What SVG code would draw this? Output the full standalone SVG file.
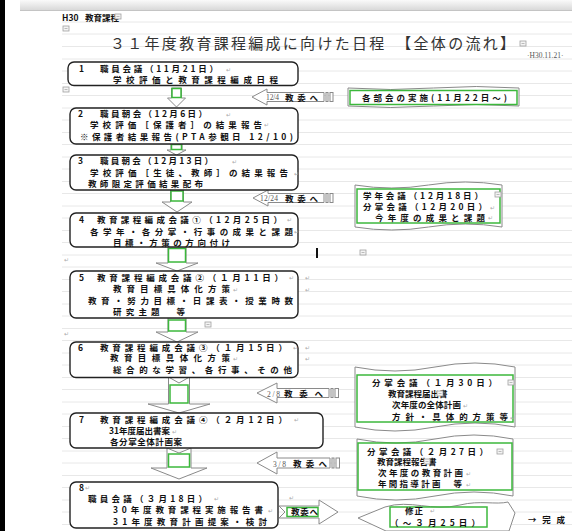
<svg xmlns="http://www.w3.org/2000/svg" xmlns:xlink="http://www.w3.org/1999/xlink" width="572" height="531" viewBox="0 0 572 531">
<defs>
<style>
.t{font-family:"Noto Sans CJK JP","Noto Sans CJK SC",sans-serif;font-size:8.5px;font-weight:bold;fill:#111}
.s{font-family:"Liberation Serif",serif;font-size:7.5px;fill:#555}
.rm{font-family:"DejaVu Sans",sans-serif;font-size:6px;fill:#aaa}
.box{fill:#fff;stroke:#222;stroke-width:1.4}
.g{fill:none;stroke:#3cb83c;stroke-width:1.5}
.ga{fill:#fff;stroke:#8a8a8a;stroke-width:1}
.rule{stroke:#e2e2e2;stroke-width:0.8;fill:none}
</style>
<linearGradient id="top" x1="0" y1="0" x2="0" y2="1">
<stop offset="0" stop-color="#fafafa"/><stop offset="1" stop-color="#d9d9d9"/>
</linearGradient>
<g id="cm"><rect x="0" y="0" width="6" height="5" fill="#f4f4f4" stroke="#a0a0a0" stroke-width="0.8"/><path d="M1.5 2.5H4.5" stroke="#a0a0a0" stroke-width="0.7"/></g>
</defs>
<rect width="572" height="531" fill="#fff"/>
<rect x="0" y="0" width="5" height="531" fill="#000"/>
<rect x="20" y="0" width="552" height="10" fill="url(#top)"/>
<path d="M20 10.5H572" stroke="#c4c4c4" stroke-width="1"/>

<g id="rules">
<path class="rule" d="M62 22H572M62 34H572M62 46.5H572M62 59H572M62 71H572M62 83.5H572M62 95.5H572M62 108H572M62 120H572M62 132.5H572M62 144.5H572M62 157H572M62 169H572M62 181.5H572M62 193.5H572M62 206H572M62 218H572M62 230.5H572M62 242.5H572M62 255H572M62 267H572M62 279.5H572M62 291.5H572M62 304H572M62 316H572M62 328.5H572M62 340.5H572M62 353H572M62 365H572M62 377.5H572M62 389.5H572M62 402H572M62 414H572M62 426.5H572M62 438.5H572M62 451H572M62 463H572M62 475.5H572M62 487.5H572M62 500H572M62 512H572M62 524.5H572"/>
</g>

<g id="header">
<text class="t" x="62" y="21" font-size="8">H30</text>
<text class="t" x="85" y="21" font-size="7">教育課程</text>
<use href="#cm" x="115" y="14"/>
<use href="#cm" x="63" y="26"/>
<text x="110" y="49" font-family="'Noto Sans CJK JP',sans-serif" font-size="15" fill="#333" textLength="405" lengthAdjust="spacing">３１年度教育課程編成に向けた日程　【全体の流れ】</text>
<use href="#cm" x="520" y="41"/>
<text class="s" x="527" y="58" font-size="7">·H30.11.21·</text>
</g>

<g id="connectors">
<path class="ga" d="M171.5 88H181.5V98H185.5L176.5 107L167.5 98H171.5Z"/>
<rect class="g" x="172" y="88.5" width="9" height="9"/>
<path class="ga" d="M171 144H182V150H186L176.5 155L167 150H171Z"/>
<rect class="g" x="171.5" y="144.5" width="10" height="5"/>
<path class="ga" d="M170.5 190H183.5V202H192L177 212L162 202H170.5Z"/>
<rect class="g" x="171" y="191" width="12" height="10"/>
<path class="ga" d="M168 247H186V263H198L177 271L156 263H168Z"/>
<rect class="g" x="168.5" y="248.5" width="17" height="13.5"/>
<path class="ga" d="M168 318H186V332H198L177 342L156 332H168Z"/>
<rect class="g" x="168.5" y="320" width="17" height="11"/>
<path class="ga" d="M168.5 377L179 383L189.5 377V404H210L179 413L148 404H168.5Z"/>
<rect class="g" x="170" y="385" width="18" height="18"/>
<path class="ga" d="M167 448L179 453L191 448V468H207L179 479L151 468H167Z"/>
<rect class="g" x="168.5" y="454" width="21" height="13"/>
<path class="ga" d="M252 97L267 89V92.5H324V101.5H267V105Z"/>
<rect class="ga" x="326" y="92.5" width="2" height="9"/><rect class="ga" x="330" y="92.5" width="3" height="9"/>
<path class="ga" d="M253 198L268 190V193.5H324V202.5H268V206Z"/>
<rect class="ga" x="326" y="193.5" width="2" height="9"/><rect class="ga" x="330" y="193.5" width="3" height="9"/>
<path class="ga" d="M257 393L277 383V388.5H329V397.5H277V403Z"/>
<rect class="ga" x="331" y="388.5" width="2" height="9"/><rect class="ga" x="335" y="388.5" width="3.5" height="9"/>
<path class="ga" d="M257 463L277 452V458H330V468H277V474Z"/>
<rect class="ga" x="332" y="458" width="2" height="10"/><rect class="ga" x="336" y="458" width="3.5" height="10"/>
<path class="ga" d="M279 506H319V500L338 512L319 524V518H279L285 512Z"/>
<rect class="g" x="287" y="507.5" width="31" height="9"/>
</g>

<g id="arrow-labels">
<text class="s" x="266" y="100" textLength="13">12/4</text>
<text class="t" x="285" y="100.5" textLength="33" lengthAdjust="spacing">教委へ</text>
<text class="s" x="260" y="201" textLength="18">12/24</text>
<text class="t" x="285" y="201.5" textLength="33" lengthAdjust="spacing">教委へ</text>
<text class="s" x="267" y="396.5" textLength="13">2/8</text>
<text class="t" x="284" y="397" textLength="39" lengthAdjust="spacing">教委へ</text>
<text class="s" x="273" y="466.5" textLength="13">3/8</text>
<text class="t" x="293" y="467" textLength="34" lengthAdjust="spacing">教委へ</text>
<text class="t" x="291" y="515" textLength="27" lengthAdjust="spacing">教委へ</text>
</g>

<g id="node1">
<rect class="box" x="68" y="62" width="230" height="23.5" rx="6"/>
<text class="t" x="79" y="71.5">1</text>
<text class="t" x="100" y="71.5" textLength="118" lengthAdjust="spacing">職員会議（11月21日）</text>
<text class="t" x="113" y="83" textLength="165" lengthAdjust="spacing">学校評価と教育課程編成日程</text>
</g>

<g id="node2">
<rect class="box" x="70" y="108" width="228" height="36" rx="6"/>
<text class="t" x="78" y="117">2</text>
<text class="t" x="100" y="117" textLength="107" lengthAdjust="spacing">職員朝会（12月6日）</text>
<text class="t" x="90" y="127.5" textLength="172" lengthAdjust="spacing">学校評価［保護者］の結果報告</text>
<text class="t" x="80" y="140" textLength="213" lengthAdjust="spacing">※保護者結果報告(PTA参観日 12/10)</text>
</g>

<g id="node3">
<rect class="box" x="70" y="155" width="228" height="35" rx="6"/>
<text class="t" x="78" y="164">3</text>
<text class="t" x="100" y="164" textLength="113" lengthAdjust="spacing">職員朝会（12月13日）</text>
<text class="t" x="90" y="175.5" textLength="198" lengthAdjust="spacing">学校評価［生徒、教師］の結果報告</text>
<text class="t" x="88" y="187" textLength="115" lengthAdjust="spacing">教師限定評価結果配布</text>
</g>

<g id="node-bukai">
<path class="ga" d="M348 88Q390.75 91 433.5 88T519 88V106Q476.25 103 433.5 106T348 106Z"/>
<rect class="g" x="350" y="90.5" width="167" height="14"/>
<text class="t" x="362" y="100.5" textLength="145" lengthAdjust="spacing">各部会の実施(11月22日～)</text>
</g>

<g id="node-gakunen">
<path class="ga" d="M355 185Q391.75 191 428.5 185T502 185V227Q465.25 221 428.5 227T355 227Z"/>
<rect class="g" x="357" y="189" width="143" height="34"/>
<text class="t" x="363" y="198.5" textLength="120" lengthAdjust="spacing">学年会議（12月18日）</text>
<use href="#cm" x="495" y="192"/>
<text class="t" x="363" y="210" textLength="124" lengthAdjust="spacing">分掌会議（12月20日）</text>
<text class="t" x="375" y="220.5" textLength="110" lengthAdjust="spacing">今年度の成果と課題</text>
</g>

<g id="node4">
<rect class="box" x="70" y="213" width="228" height="34" rx="6"/>
<text class="t" x="79" y="223">4</text>
<text class="t" x="97" y="223" textLength="185" lengthAdjust="spacing">教育課程編成会議①（12月25日）</text>
<text class="t" x="90" y="234.5" textLength="203" lengthAdjust="spacing">各学年・各分掌・行事の成果と課題</text>
<text class="t" x="113" y="245.5" textLength="117" lengthAdjust="spacing">目標・方策の方向付け</text>
</g>

<g id="node5">
<rect class="box" x="70" y="271" width="228" height="47" rx="6"/>
<text class="t" x="79" y="280.5">5</text>
<text class="t" x="97" y="280.5" textLength="186" lengthAdjust="spacing">教育課程編成会議②（１月11日）</text>
<text class="t" x="113" y="292" textLength="117" lengthAdjust="spacing">教育目標具体化方策</text>
<text class="t" x="88" y="303.5" textLength="205" lengthAdjust="spacing">教育・努力目標・日課表・授業時数</text>
<text class="t" x="113" y="314.5" textLength="72" lengthAdjust="spacing">研究主題　等</text>
</g>

<g id="node6">
<rect class="box" x="70" y="342" width="228" height="35.5" rx="6"/>
<text class="t" x="78" y="350.5">6</text>
<text class="t" x="100" y="350.5" textLength="187" lengthAdjust="spacing">教育課程編成会議③（１月15日）</text>
<text class="t" x="110" y="361" textLength="120" lengthAdjust="spacing">教育目標具体化方策</text>
<text class="t" x="113" y="372.5" textLength="179" lengthAdjust="spacing">総合的な学習、各行事、その他</text>
</g>

<g id="node-bunsho1">
<path class="ga" d="M355 367Q395 375 435 367T515 367V427Q475 419 435 427T355 427Z"/>
<rect class="g" x="357" y="375" width="156" height="47"/>
<text class="t" x="372" y="386" textLength="125" lengthAdjust="spacing">分掌会議（１月30日）</text>
<use href="#cm" x="508" y="380"/>
<text class="t" x="388" y="396.5" font-size="6.8">教育課程届出書</text>
<use href="#cm" x="437" y="391"/>
<text class="t" x="392" y="408" textLength="69" lengthAdjust="spacing">次年度の全体計画</text>
<text class="t" x="392" y="420" textLength="116" lengthAdjust="spacing">方針・具体的方策等</text>
</g>

<g id="node7">
<rect class="box" x="70" y="413" width="253" height="35" rx="6"/>
<text class="t" x="79" y="422.5">7</text>
<text class="t" x="100" y="422.5" textLength="187" lengthAdjust="spacing">教育課程編成会議④（２月12日）</text>
<text class="t" x="109" y="434" font-size="7.5">31年度届出書案</text>
<text class="t" x="110" y="445" textLength="72" lengthAdjust="spacing">各分掌全体計画案</text>
</g>

<g id="node-bunsho2">
<path class="ga" d="M357 439Q396 447 435 439T513 439V496Q474 488 435 496T357 496Z"/>
<rect class="g" x="358" y="443" width="154" height="47"/>
<text class="t" x="367" y="454.5" textLength="121" lengthAdjust="spacing">分掌会議（２月27日）</text>
<use href="#cm" x="497" y="449"/>
<text class="t" x="377" y="465" font-size="6.3">教育課程報告書</text>
<use href="#cm" x="424" y="459"/>
<text class="t" x="378" y="476" textLength="85" lengthAdjust="spacing">次年度の教育計画</text>
<text class="t" x="378" y="487" textLength="84" lengthAdjust="spacing">年間指導計画　等</text>
</g>

<g id="node8">
<rect class="box" x="70" y="482" width="208" height="46" rx="6"/>
<text class="t" x="79" y="490.5">8</text>
<text class="t" x="88" y="501.5" textLength="119" lengthAdjust="spacing">職員会議（３月18日）</text>
<text class="t" x="113" y="513" textLength="150" lengthAdjust="spacing">30年度教育課程実施報告書</text>
<text class="t" x="113" y="524.5" textLength="154" lengthAdjust="spacing">31年度教育計画提案・検討</text>
</g>

<g id="node-shusei">
<path class="ga" d="M358 518L385 507C410 499 432 512 460 505C480 500 496 505 508 502L515 513L509 531H386Z"/>
<rect class="g" x="390" y="507" width="97" height="20"/>
<text class="t" x="405" y="513.5" textLength="18" lengthAdjust="spacing">修正</text>
<text class="t" x="390" y="525.5" textLength="90" lengthAdjust="spacing">（～３月25日）</text>
</g>
<text class="t" x="528" y="523" textLength="37" lengthAdjust="spacing">→完成</text>

<g id="marks">
<use href="#cm" x="63" y="87"/>
<use href="#cm" x="360" y="250"/>
<use href="#cm" x="205" y="322"/>
<rect x="316" y="248" width="2" height="10" fill="#111"/>
<text class="rm" x="226" y="72">↵</text>
<text class="rm" x="226" y="117">↵</text>
<text class="rm" x="264" y="127">↵</text>
<text class="rm" x="232" y="164">↵</text>
<text class="rm" x="294" y="176">↵</text>
<text class="rm" x="287" y="222">↵</text>
<text class="rm" x="294" y="234">↵</text>
<text class="rm" x="64" y="262">↵</text>
<text class="rm" x="289" y="280">↵</text>
<text class="rm" x="305" y="280">↵</text>
<text class="rm" x="233" y="292">↵</text>
<text class="rm" x="305" y="292">↵</text>
<text class="rm" x="64" y="336">↵</text>
<text class="rm" x="293" y="350">↵</text>
<text class="rm" x="305" y="350">↵</text>
<text class="rm" x="233" y="361">↵</text>
<text class="rm" x="305" y="361">↵</text>
<text class="rm" x="490" y="210">↵</text>
<text class="rm" x="488" y="220">↵</text>
<text class="rm" x="463" y="408">↵</text>
<text class="rm" x="510" y="420">↵</text>
<text class="rm" x="294" y="422">↵</text>
<text class="rm" x="172" y="434">↵</text>
<text class="rm" x="466" y="476">↵</text>
<text class="rm" x="466" y="487">↵</text>
<text class="rm" x="85" y="490">↵</text>
<text class="rm" x="214" y="501">↵</text>
<text class="rm" x="289" y="500">↵</text>
<text class="rm" x="268" y="513">↵</text>
<text class="rm" x="430" y="513">↵</text>
</g>
</svg>
